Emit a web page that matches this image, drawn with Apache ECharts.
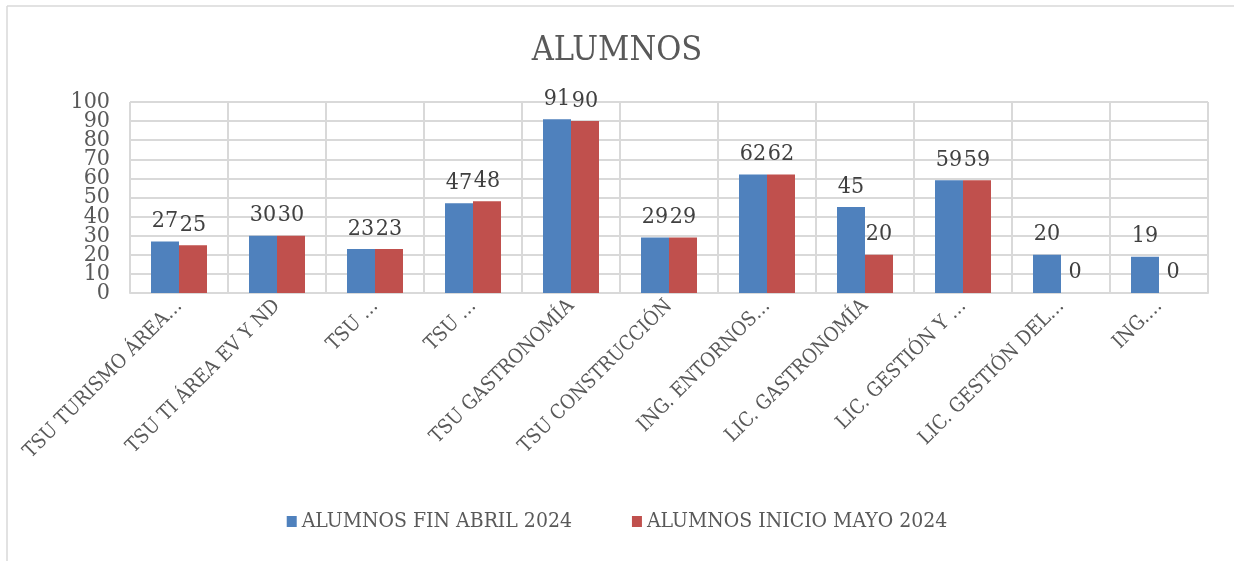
<!DOCTYPE html>
<html>
<head>
<meta charset="utf-8">
<script src="https://cdn.jsdelivr.net/npm/echarts@6/dist/echarts.min.js"></script>
<style>
  html, body { margin: 0; padding: 0; background: #fff; }
  #chart { width: 1234px; height: 561px; }
</style>
</head>
<body>
<div id="chart"></div>
<script>
// carreras (etiquetas tal como salen recortadas en el original)
var carreras = ['TSU TURISMO ÁREA…', 'TSU TI ÁREA EV Y ND', 'TSU …', 'TSU …', 'TSU GASTRONOMÍA',
    'TSU CONSTRUCCIÓN', 'ING. ENTORNOS…', 'LIC. GASTRONOMÍA', 'LIC. GESTIÓN Y …', 'LIC. GESTIÓN DEL…', 'ING.…'];
var finAbril = [27, 30, 23, 47, 91, 29, 62, 45, 59, 20, 19];
var inicioMayo = [25, 30, 23, 48, 90, 29, 62, 20, 59, 0, 0];
var nombres = ['ALUMNOS FIN ABRIL 2024', 'ALUMNOS INICIO MAYO 2024'];
var extremosEje = [0, 100];

var fuente = 'DejaVu Serif Condensed';
var gris = '#595959';

var chart = echarts.init(document.getElementById('chart'), null, {renderer: 'canvas'});

var etiquetaEje = {fontFamily: fuente, fontSize: 23, color: gris, margin: 20, hideOverlap: false};

chart.setOption({
    animation: false,
    textStyle: {fontFamily: fuente},
    title: {
        text: 'ALUMNOS',
        left: 'center',
        top: 29,
        textStyle: {fontFamily: fuente, fontSize: 34, fontWeight: 'normal', color: gris}
    },
    legend: {
        bottom: 24,
        left: 'center',
        itemWidth: 10,
        itemHeight: 11,
        itemGap: 60,
        icon: 'rect',
        textStyle: {fontFamily: fuente, fontSize: 21, color: gris},
        data: nombres
    },
    graphic: [
        {type: 'line', shape: {x1: 7, y1: 6, x2: 1234, y2: 6}, style: {stroke: '#d9d9d9', lineWidth: 1.5}},
        {type: 'line', shape: {x1: 7, y1: 6, x2: 7, y2: 561}, style: {stroke: '#d9d9d9', lineWidth: 1.5}}
    ],
    grid: {left: 130, right: 26, top: 102, bottom: 268, containLabel: false},
    xAxis: {
        type: 'category',
        data: carreras,
        axisLine: {lineStyle: {color: '#d9d9d9', width: 2}},
        axisTick: {show: false},
        splitLine: {show: true, lineStyle: {color: '#d9d9d9', width: 2}},
        axisLabel: {
            interval: 0,
            rotate: 45,
            margin: 10,
            fontFamily: fuente,
            fontSize: 20,
            color: gris
        }
    },
    yAxis: [
        {
            // eje principal: etiquetas 10..90
            type: 'value',
            min: 0,
            max: 100,
            interval: 10,
            axisLine: {show: false},
            axisTick: {show: false},
            splitLine: {lineStyle: {color: '#d9d9d9', width: 2}},
            axisLabel: Object.assign({showMinLabel: false, showMaxLabel: false}, etiquetaEje)
        },
        {
            // solo 0 y 100, que ECharts ocultaria por solaparse
            type: 'value',
            position: 'left',
            min: 0,
            max: 100,
            interval: 10,
            axisLine: {show: false},
            axisTick: {show: false},
            splitLine: {show: false},
            axisLabel: Object.assign({customValues: extremosEje}, etiquetaEje)
        }
    ],
    series: [
        {
            name: nombres[0],
            type: 'bar',
            data: finAbril,
            barWidth: 28,
            barGap: '0%',
            itemStyle: {color: '#4F81BD'},
            label: {show: true, position: 'top', distance: 9, fontFamily: fuente, fontSize: 23, color: '#404040'}
        },
        {
            name: nombres[1],
            type: 'bar',
            data: inicioMayo,
            barWidth: 28,
            barGap: '0%',
            itemStyle: {color: '#C0504D'},
            label: {show: true, position: 'top', distance: 9, fontFamily: fuente, fontSize: 23, color: '#404040'}
        }
    ]
});
</script>
</body>
</html>
